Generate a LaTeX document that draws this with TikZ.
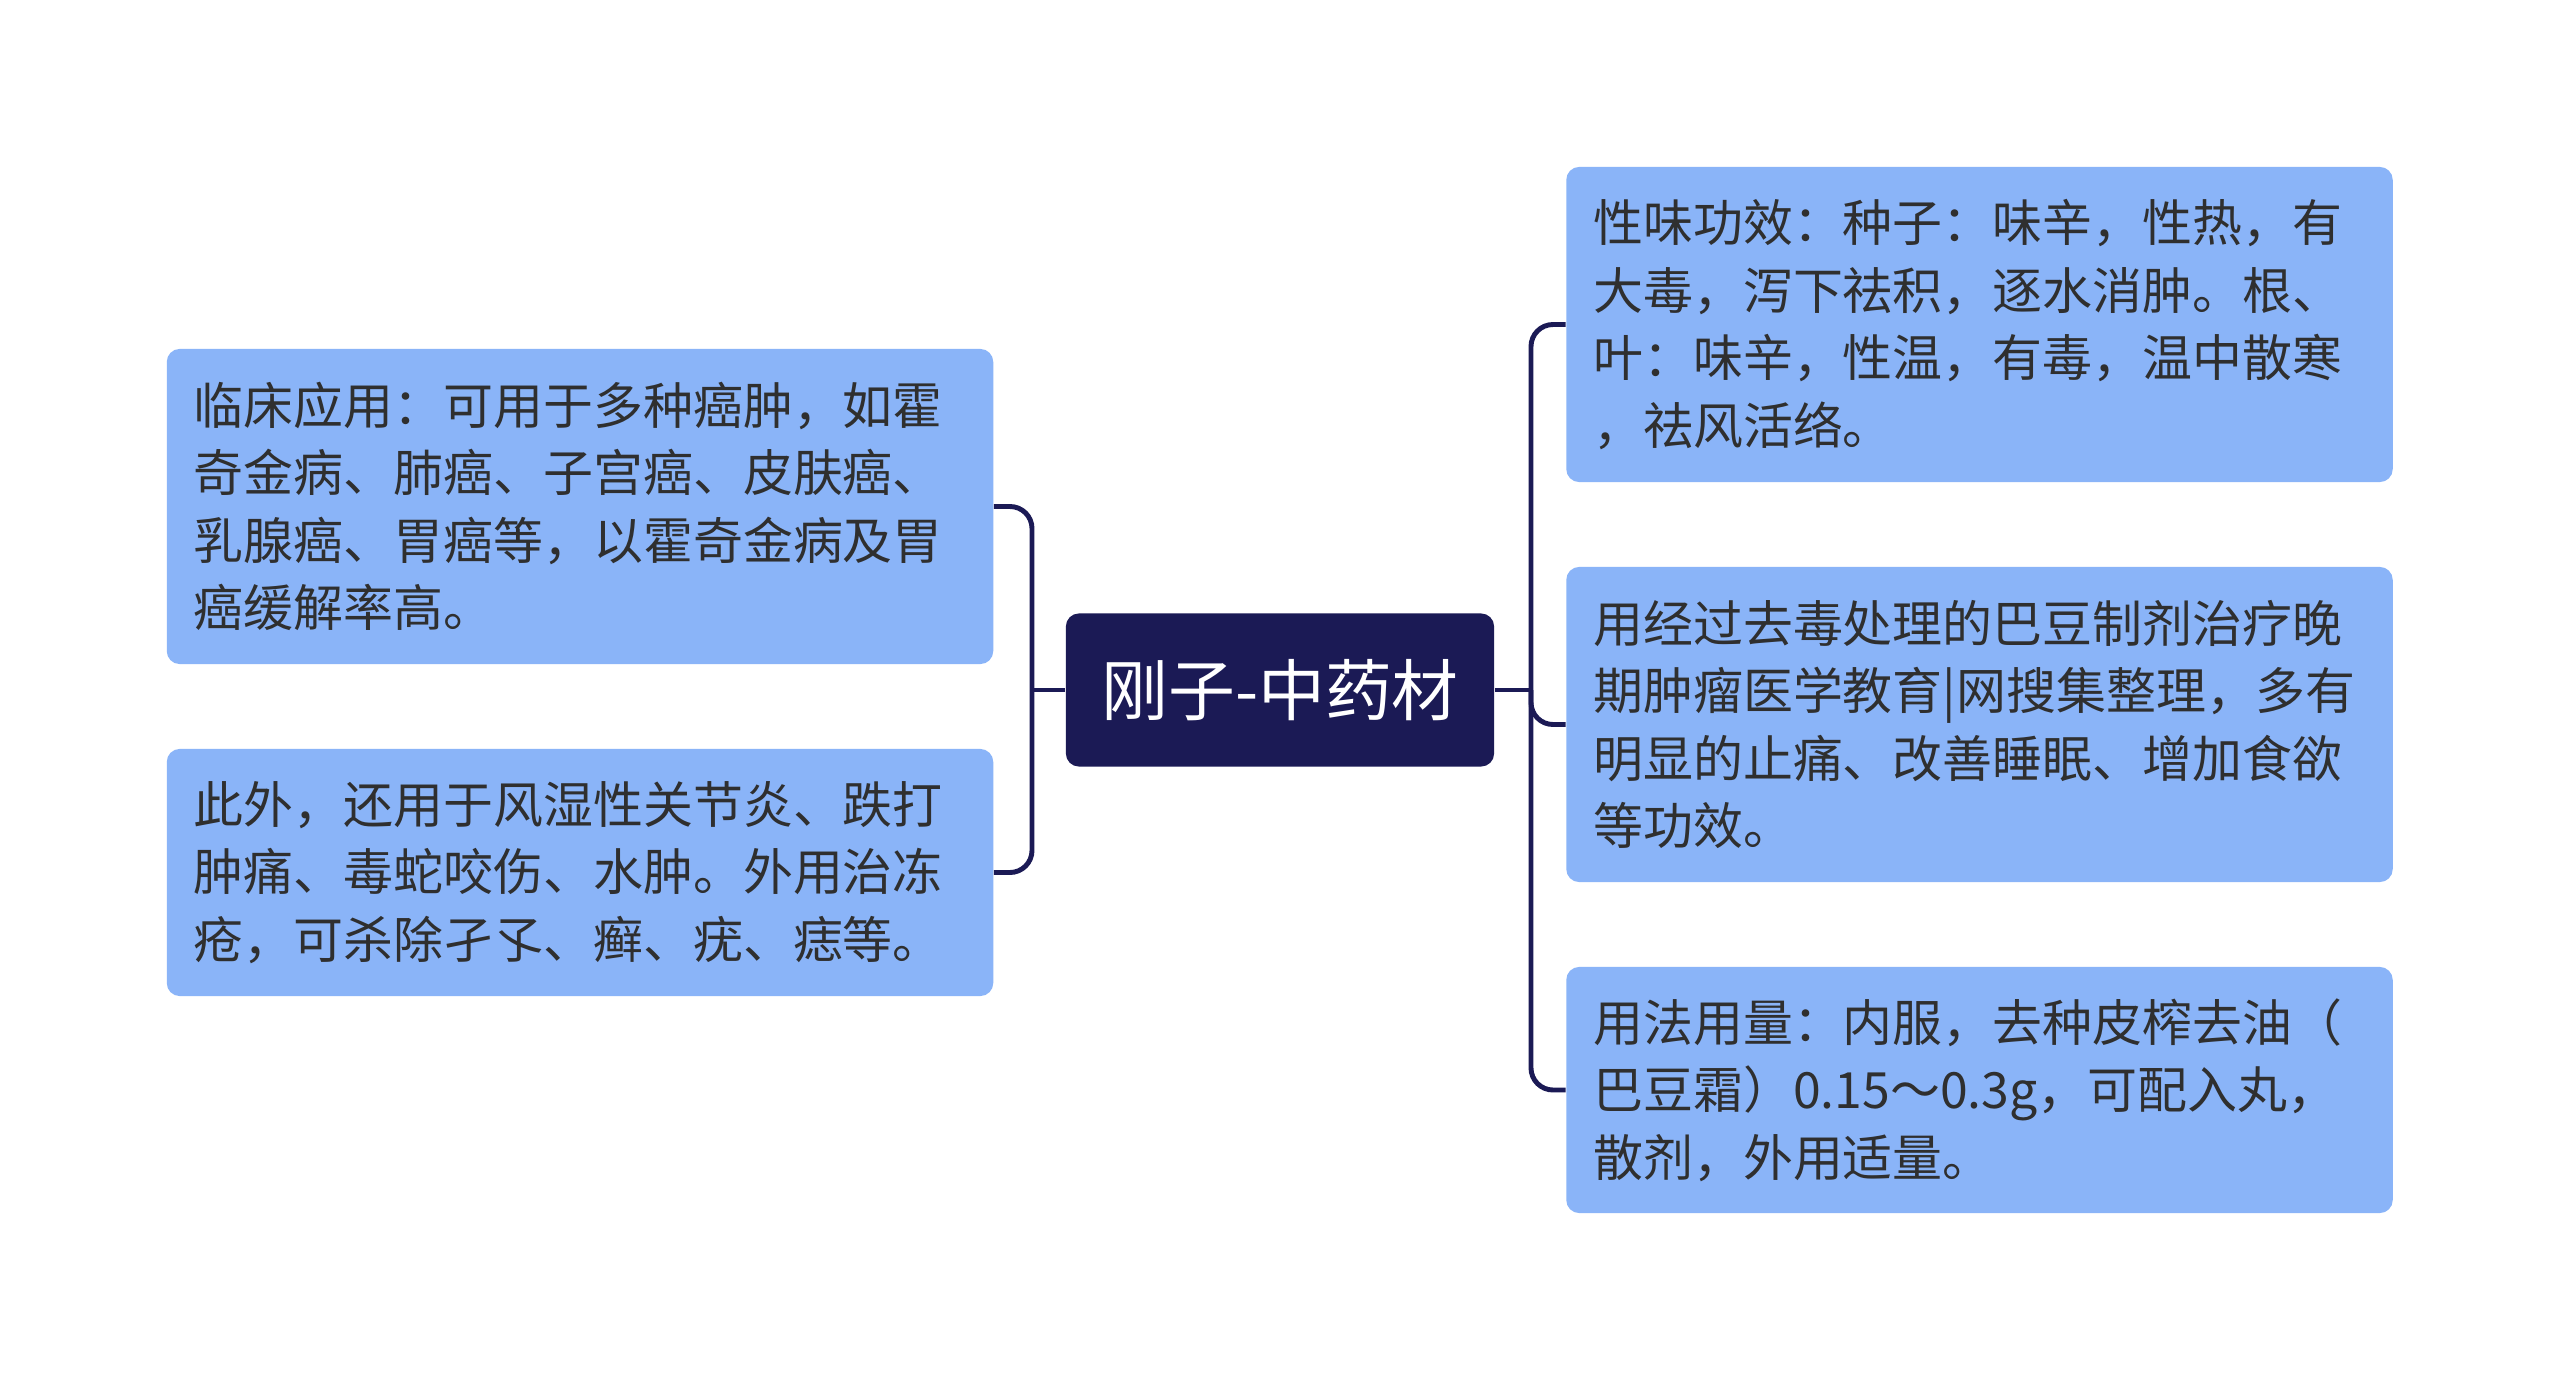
\documentclass[tikz,border=0pt]{standalone}
\usepackage{fontspec}
\setmainfont{Noto Sans CJK SC}
\definecolor{boxfill}{HTML}{8AB4F8}
\definecolor{navy}{HTML}{1B1A55}
\definecolor{txt}{HTML}{2F2F2F}
\begin{document}
\begin{tikzpicture}[x=0.01cm,y=-0.01cm,
  leaf/.style={draw=none,fill=boxfill,rounded corners=0.13cm,text=txt,
    align=left,text width=7.72cm,inner xsep=0.27cm,inner ysep=0pt,
    font=\fontsize{14.2pt}{19.2pt}\selectfont},
  root/.style={fill=navy,rounded corners=0.13cm,text=white,
    minimum width=4.28cm,minimum height=1.53cm,inner sep=0pt,
    font=\fontsize{19pt}{22pt}\selectfont},
  conn/.style={draw=navy,line width=1.4pt,rounded corners=0.22cm}]
\useasboundingbox (0,0) rectangle (2560,1382);
\fill[white] (0,0) rectangle (2560,1382);

\node[root] (c) at (1280,690) {刚子-中药材};

\node[leaf,minimum height=3.15cm] (l1) at (580,506.5) {临床应用：可用于多种癌肿，如霍\\奇金病、肺癌、子宫癌、皮肤癌、\\乳腺癌、胃癌等，以霍奇金病及胃\\癌缓解率高。};
\node[leaf,minimum height=2.47cm] (l2) at (580,872.5) {此外，还用于风湿性关节炎、跌打\\肿痛、毒蛇咬伤、水肿。外用治冻\\疮，可杀除孑孓、癣、疣、痣等。};

\node[leaf,minimum height=3.15cm] (r1) at (1979.5,324.5) {性味功效：种子：味辛，性热，有\\大毒，泻下祛积，逐水消肿。根、\\叶：味辛，性温，有毒，温中散寒\\，祛风活络。};
\node[leaf,minimum height=3.15cm] (r2) at (1979.5,724.5) {用经过去毒处理的巴豆制剂治疗晚\\期肿瘤医学教育|网搜集整理，多有\\明显的止痛、改善睡眠、增加食欲\\等功效。};
\node[leaf,minimum height=2.46cm] (r3) at (1979.5,1090) {用法用量：内服，去种皮榨去油（\\巴豆霜）0.15～0.3g，可配入丸，\\散剂，外用适量。};

\coordinate (lt) at (1032,690);
\coordinate (rt) at (1531,690);
\draw[conn] (c.west) -- (lt);
\draw[conn] (l1.east) -| (lt) |- (l2.east);
\draw[conn] (c.east) -- (rt);
\draw[conn] (r1.east -| r1.west) -| (rt) |- (r3.west);
\draw[conn] (rt) |- (r2.west);
\end{tikzpicture}
\end{document}
